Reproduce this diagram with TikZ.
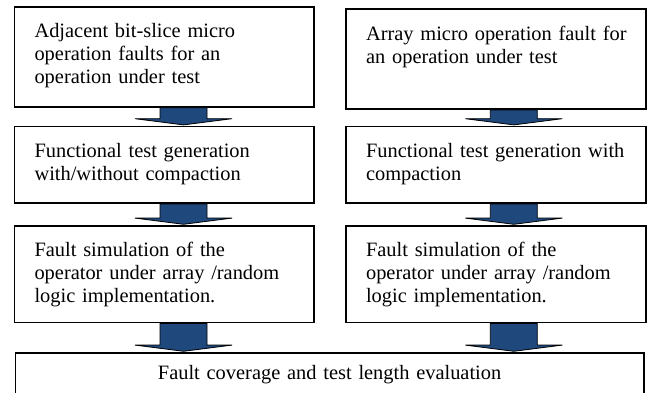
\documentclass[tikz,border=0pt]{standalone}
\usepackage{fontspec}
\setmainfont{Liberation Serif}
\usetikzlibrary{positioning,calc}
\definecolor{arrowblue}{RGB}{31,73,125}
\tikzset{
  box/.style  = {draw, line width=1.7pt, fill=white, rectangle, inner xsep=20pt, inner ysep=6pt,
                 text width=259.6pt, align=left, text height=25pt, text depth=#1,
                 font=\fontsize{20.4}{23}\selectfont},
  wide/.style = {box=27pt, text width=588.5pt, align=center, text height=21pt},
  flow/.style = {draw=black, line width=0.8pt, fill=arrowblue}
}
% block arrow: from node, to node, x of its centre
\newcommand{\flowarrow}[3]{%
  \draw[flow] let \p1=(#1.south), \p2=(#2.north) in
    (#3pt-23.5pt,\y1) -- (#3pt+23.5pt,\y1) -- (#3pt+23.5pt,\y2+7pt)
    -- (#3pt+48.5pt,\y2+7pt) -- (#3pt,\y2+0.8pt) -- (#3pt-48.5pt,\y2+7pt)
    -- (#3pt-23.5pt,\y2+7pt) -- cycle;}

\begin{document}
\begin{tikzpicture}[x=1pt,y=-1pt]
\useasboundingbox (0,0) rectangle (649,393);
\clip (0,0) rectangle (649,393);
% left column, bit-slice faults
\node[box=63pt, anchor=north west] (bitSlice) at (13.7,6)
  {Adjacent bit-slice micro\\operation faults for an\\operation under test};
\node[box=39.7pt, below=18pt of bitSlice] (genLeft)
  {Functional test generation\\with/without compaction};
\node[box=59.6pt, below=21pt of genLeft] (simLeft)
  {Fault simulation of the\\operator under array /random\\logic implementation.};
% right column, array faults
\node[box=63pt, right=30.2pt of bitSlice, yshift=-2.3pt] (arrayFault)
  {\mbox{Array micro operation fault for}\\an operation under test};
\node[box=39.7pt, right=30.2pt of genLeft] (genRight)
  {\mbox{Functional test generation with}\\compaction};
\node[box=59.6pt, right=30.2pt of simLeft] (simRight)
  {Fault simulation of the\\operator under array /random\\logic implementation.};
% common result
\node[wide, below=28.7pt of simLeft.south west, anchor=north west, xshift=0.8pt] (coverage)
  {Fault coverage and test length evaluation};

\flowarrow{bitSlice}{genLeft}{183.5}
\flowarrow{genLeft}{simLeft}{183.5}
\flowarrow{simLeft}{coverage}{183.5}
\flowarrow{arrayFault}{genRight}{513.8}
\flowarrow{genRight}{simRight}{513.8}
\flowarrow{simRight}{coverage}{513.8}
\end{tikzpicture}
\end{document}
